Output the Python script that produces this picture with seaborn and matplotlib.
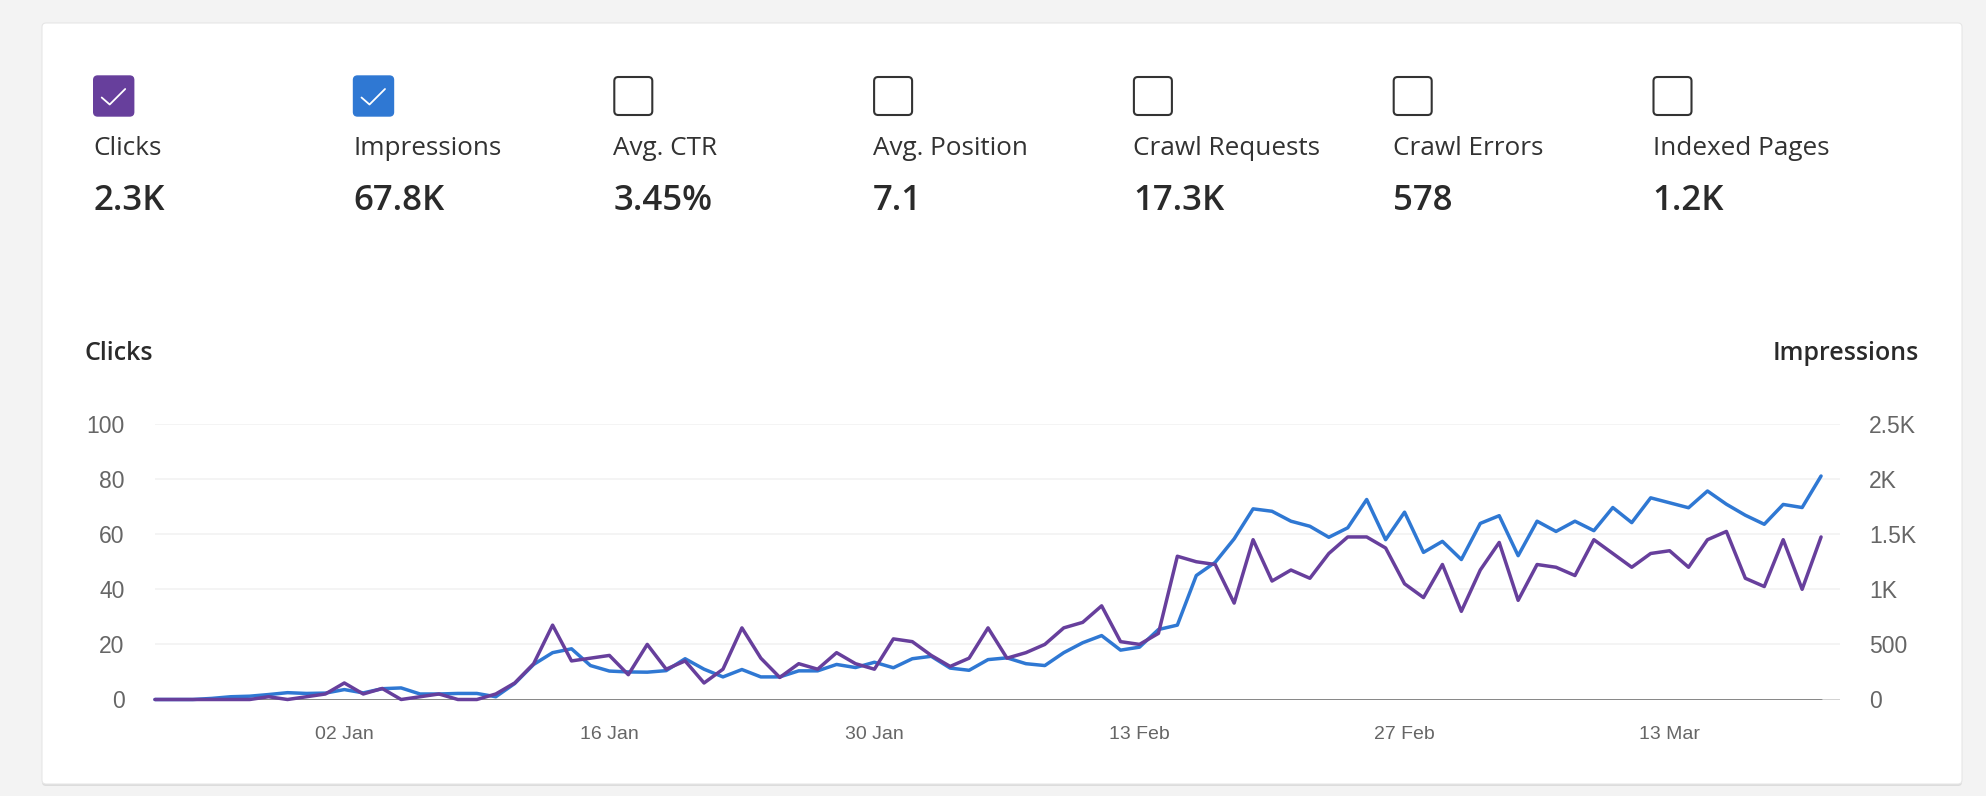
import pandas as pd
import matplotlib
matplotlib.use("Agg")
import matplotlib.pyplot as plt
import matplotlib.dates as mdates
import matplotlib.patches as mpatches
from matplotlib.lines import Line2D
from matplotlib.transforms import IdentityTransform
import seaborn as sns

# metric tiles along the top of the card
metric_names = ["Clicks", "Impressions", "Avg. CTR", "Avg. Position",
                "Crawl Requests", "Crawl Errors", "Indexed Pages"]
metric_values = ["2.3K", "67.8K", "3.45%", "7.1", "17.3K", "578", "1.2K"]
metric_checked = [True, True, False, False, False, False, False]

# daily series, 23 Dec -> 21 Mar
start_date = "2022-12-23"
clicks = [0, 0, 0, 0, 0, 0, 1, 0, 1, 2, 6, 2, 4, 0, 1, 2, 0, 0, 2, 6,
          13, 27, 14, 15, 16, 9, 20, 11, 14, 6, 11, 26, 15, 8, 13, 11, 17, 13, 11, 22,
          21, 16, 12, 15, 26, 15, 17, 20, 26, 28, 34, 21, 20, 24, 52, 50, 49, 35, 58, 43,
          47, 44, 53, 59, 59, 55, 42, 37, 49, 32, 47, 57, 36, 49, 48, 45, 58, 53, 48, 53,
          54, 48, 58, 61, 44, 41, 58, 40, 59]
impressions = [0, 0, 0, 10, 25, 30, 45, 62, 55, 58, 90, 60, 98, 105, 50, 50, 55, 55, 25, 145,
               318, 425, 460, 308, 258, 250, 248, 262, 370, 275, 205, 272, 205, 205, 260, 260, 318, 290, 338, 288,
               370, 392, 285, 265, 362, 378, 325, 308, 425, 515, 580, 448, 475, 635, 675, 1125, 1245, 1458, 1730, 1708,
               1618, 1572, 1472, 1558, 1815, 1450, 1700, 1335, 1435, 1270, 1598, 1668, 1305, 1618, 1525, 1618, 1532, 1742, 1605, 1830,
               1785, 1740, 1892, 1772, 1672, 1590, 1770, 1742, 2028]

x_tick_dates = ["2023-01-02", "2023-01-16", "2023-01-30", "2023-02-13", "2023-02-27", "2023-03-13"]
clicks_ticks = [0, 20, 40, 60, 80, 100]
impr_ticks = [0, 500, 1000, 1500, 2000, 2500]
impr_tick_labels = ["0", "500", "1K", "1.5K", "2K", "2.5K"]

PURPLE = "#673f9c"
BLUE = "#2f78d3"
TEXT = "#323232"
TICK = "#666666"

df = pd.DataFrame({
    "date": pd.date_range(start_date, periods=len(clicks), freq="D"),
    "clicks": clicks,
    "impressions": impressions,
})

sns.set_style("white")
plt.rcParams["font.family"] = ["Open Sans", "DejaVu Sans"]

W, H = 1986, 796
fig = plt.figure(figsize=(W / 100, H / 100), dpi=100, facecolor="#f3f3f3")
px = IdentityTransform()

# card with soft shadow
fig.add_artist(mpatches.FancyBboxPatch((42, H - 786), 1920, 761,
               boxstyle="round,pad=0,rounding_size=4", transform=px,
               facecolor="#dcdcdc", edgecolor="none", zorder=0))
fig.add_artist(mpatches.FancyBboxPatch((42, H - 784), 1920, 761,
               boxstyle="round,pad=0,rounding_size=4", transform=px,
               facecolor="white", edgecolor="#e6e6e6", lw=0.8, zorder=0))

# metric tiles
col_x = 93.7
for i, (name, val, checked) in enumerate(zip(metric_names, metric_values, metric_checked)):
    x0 = col_x + i * 259.8
    if checked:
        fc = PURPLE if i == 0 else BLUE
        fig.add_artist(mpatches.FancyBboxPatch((x0, H - 116), 40, 40,
                       boxstyle="round,pad=0,rounding_size=4", transform=px,
                       facecolor=fc, edgecolor=fc, lw=1, zorder=2))
        fig.add_artist(Line2D([x0 + 8, x0 + 16, x0 + 31.5],
                              [H - 97.5, H - 104.5, H - 89],
                              transform=px, color="white", lw=1.3, zorder=3))
    else:
        fig.add_artist(mpatches.FancyBboxPatch((x0 + 1, H - 115), 38, 38,
                       boxstyle="round,pad=0,rounding_size=4", transform=px,
                       facecolor="white", edgecolor="#333333", lw=1.5, zorder=2))
    fig.text(x0 / W, 1 - 155 / H, name, fontsize=18.8, color=TEXT, va="baseline")
    fig.text(x0 / W, 1 - 210 / H, val, fontsize=25, weight="semibold", color="#2a2a2a", va="baseline")

# axis titles
fig.text(85 / W, 1 - 360 / H, "Clicks", fontsize=18, weight="semibold", color="#2a2a2a", va="baseline")
fig.text(1919 / W, 1 - 360 / H, "Impressions", fontsize=18, weight="semibold", color="#2a2a2a",
         va="baseline", ha="right")

ax = fig.add_axes([155 / W, 1 - 699.5 / H, 1685 / W, 275.5 / H])
ax2 = ax.twinx()
ax.set_zorder(ax2.get_zorder() + 1)
ax.patch.set_visible(False)
ax2.patch.set_visible(False)

sns.lineplot(data=df, x="date", y="impressions", ax=ax2, color=BLUE, lw=2.5, clip_on=False, zorder=3)
sns.lineplot(data=df, x="date", y="clicks", ax=ax, color=PURPLE, lw=2.5, clip_on=False, zorder=3)

ax.set_xlim(df["date"].iloc[0], df["date"].iloc[0] + pd.Timedelta(days=89))
ax.set_ylim(0, 100)
ax2.set_ylim(0, 2500)

ax2.set_yticks(impr_ticks)
ax2.set_yticklabels(impr_tick_labels)
ax.set_yticks(clicks_ticks)
ax2.grid(True, axis="y", color="#f3f3f3", lw=1.3)
ax2.grid(False, axis="x")
ax.grid(False)
ax2.axhline(0, color="#d0d0d0", lw=2, zorder=2)
ax2.axhline(0, xmin=0, xmax=88 / 89, color="#808080", lw=2, zorder=2)

ax.set_xticks(pd.to_datetime(x_tick_dates))
ax.xaxis.set_major_formatter(mdates.DateFormatter("%d %b"))

tick_font = "Liberation Sans"
ax.tick_params(axis="y", length=0, pad=22, labelsize=16.5, labelcolor=TICK)
ax2.tick_params(axis="y", length=0, pad=21, labelsize=16.5, labelcolor=TICK)
ax.tick_params(axis="x", length=0, pad=19, labelsize=14, labelcolor=TICK)
for lab in ax.get_yticklabels() + ax2.get_yticklabels() + ax.get_xticklabels():
    lab.set_family(tick_font)

ax.set_xlabel("")
ax.set_ylabel("")
ax2.set_ylabel("")
for a in (ax, ax2):
    for s in a.spines.values():
        s.set_visible(False)

fig.savefig("out.png", dpi=100, facecolor=fig.get_facecolor())
